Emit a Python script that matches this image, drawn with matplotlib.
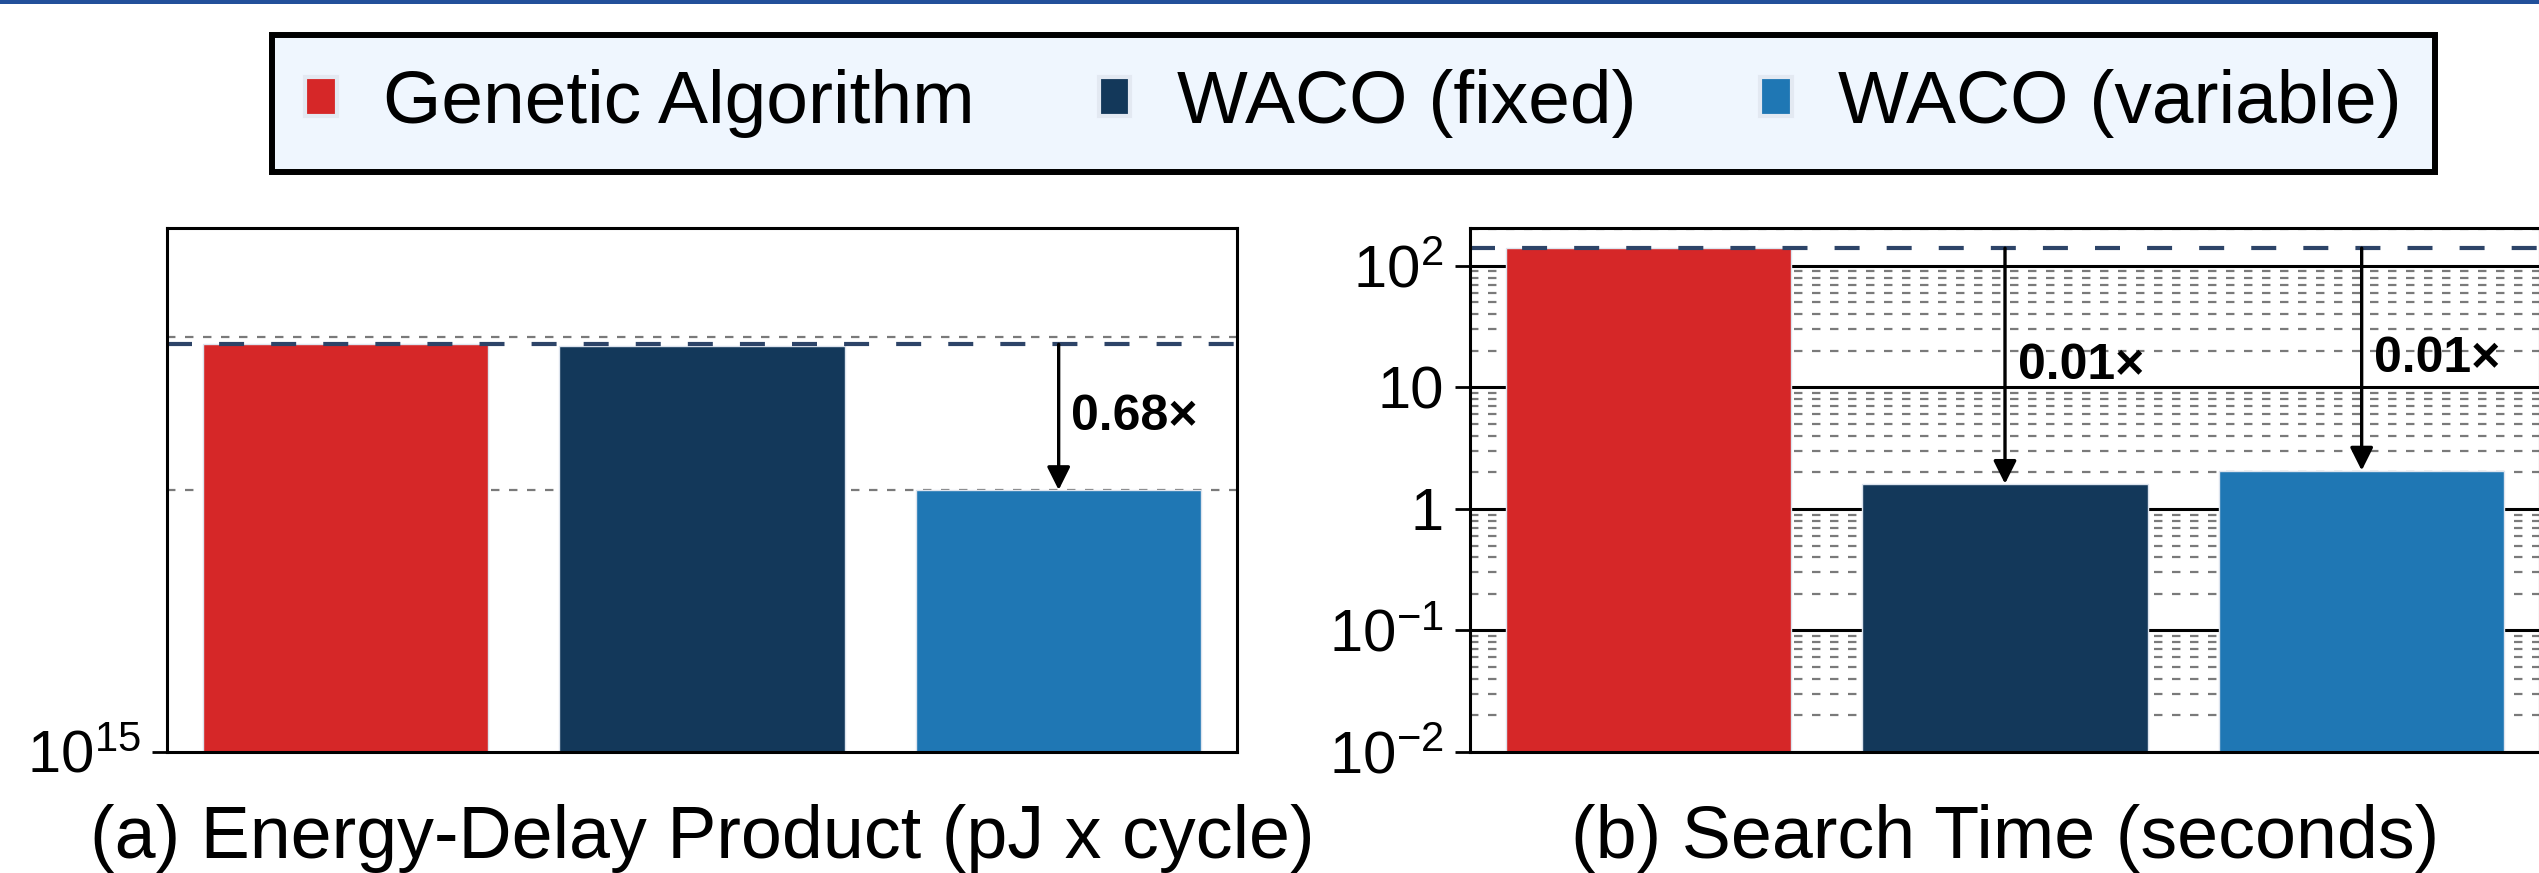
import numpy as np
import matplotlib
matplotlib.use("Agg")
import matplotlib.pyplot as plt
from matplotlib.patches import Patch, Rectangle
from matplotlib.ticker import LogLocator, NullFormatter, FixedLocator, FixedFormatter

plt.rcParams['font.family'] = ['Liberation Sans', 'DejaVu Sans']
plt.rcParams['mathtext.fontset'] = 'custom'
plt.rcParams['mathtext.rm'] = 'Liberation Sans'
plt.rcParams['mathtext.it'] = 'Liberation Sans:italic'
plt.rcParams['mathtext.bf'] = 'Liberation Sans:bold'

# data
methods = ["Genetic Algorithm", "WACO (fixed)", "WACO (variable)"]
colors = ["#d62728", "#13385a", "#1f77b4"]
edp = [2.94e15, 2.93e15, 2.0e15]          # pJ x cycle
search_time = [140.0, 1.61, 2.07]         # seconds
edp_ticks = [1e15]
edp_ticklabels = ["$10^{15}$"]
time_ticks = [1e-2, 1e-1, 1, 10, 1e2]
time_ticklabels = ["$10^{-2}$", "$10^{-1}$", "1", "10", "$10^{2}$"]
captions = ["(a) Energy-Delay Product (pJ x cycle)", "(b) Search Time (seconds)"]

W, H = 2539, 873
fig = plt.figure(figsize=(W / 100, H / 100), dpi=100)

# thin blue band across the top
fig.add_artist(Rectangle((0, 1 - 4 / H), 1, 4 / H, transform=fig.transFigure,
                         facecolor="#22509a", edgecolor="none"))

ax_a = fig.add_axes([167 / W, 1 - 752 / H, 1070 / W, 524 / H])
ax_b = fig.add_axes([1470 / W, 1 - 752 / H, 1070 / W, 524 / H])

def draw_panel(ax, vals, ylim, ticks, ticklabels, major_grid):
    x = np.arange(len(vals))
    ax.set_yscale("log")
    ax.set_axisbelow(True)
    ax.bar(x, vals, width=0.8, color=colors, edgecolor="#dde4ee", linewidth=1)
    ax.set_xlim(-0.5, 2.5)
    ax.set_ylim(*ylim)
    ax.set_xticks([])
    ax.yaxis.set_major_locator(FixedLocator(ticks))
    ax.yaxis.set_major_formatter(FixedFormatter(ticklabels))
    ax.yaxis.set_minor_locator(LogLocator(base=10, subs=np.arange(2, 10), numticks=50))
    ax.yaxis.set_minor_formatter(NullFormatter())
    ax.tick_params(axis="y", which="major", length=11, width=2, pad=8, labelsize=43)
    ax.tick_params(axis="y", which="minor", length=0)
    ax.grid(which="minor", axis="y", color="#7a7a7a", linewidth=1.6,
            linestyle=(0, (3.8, 4.3)))
    if major_grid:
        ax.grid(which="major", axis="y", color="black", linewidth=2.2)
    for s in ax.spines.values():
        s.set_linewidth(2.2)
    base = vals[0]
    ax.axhline(base, color="#2d4468", linewidth=3, linestyle=(0, (6, 6.5)), zorder=2)
    for i in range(1, len(vals)):
        ratio = vals[i] / base
        if ratio > 0.9:
            continue
        ax.annotate("", xy=(x[i], vals[i]), xytext=(x[i], base),
                    arrowprops=dict(arrowstyle="-|>,head_length=0.7,head_width=0.35",
                                    color="black", lw=2.4, shrinkA=0, shrinkB=0,
                                    mutation_scale=20), zorder=4)
        ax.annotate(f"{ratio:.2f}×", xy=(x[i], np.sqrt(vals[i] * base)),
                    xytext=(9, 0), textcoords="offset points",
                    ha="left", va="center", fontsize=36, fontweight="bold", zorder=5)

draw_panel(ax_a, edp, (1e15, 4e15), edp_ticks, edp_ticklabels, False)
draw_panel(ax_b, search_time, (1e-2, 205), time_ticks, time_ticklabels, True)

fig.text(702 / W, 1 - 858 / H, captions[0], ha="center", va="baseline", fontsize=53)
fig.text(2005 / W, 1 - 858 / H, captions[1], ha="center", va="baseline", fontsize=53)

handles = [Patch(facecolor=c, edgecolor="#e3e9f2", linewidth=3) for c in colors]
leg = fig.legend(handles, methods, loc="center", bbox_to_anchor=(1353.5 / W, 1 - 103.5 / H),
                 ncol=3, fontsize=54, frameon=True, fancybox=False, framealpha=1,
                 handlelength=0.42, handleheight=0.42, handletextpad=0.62,
                 columnspacing=1.65, borderpad=0.45)
leg.get_frame().set_facecolor("#eff6fe")
leg.get_frame().set_edgecolor("black")
leg.get_frame().set_linewidth(4.3)

fig.savefig("out.png", dpi=100)
